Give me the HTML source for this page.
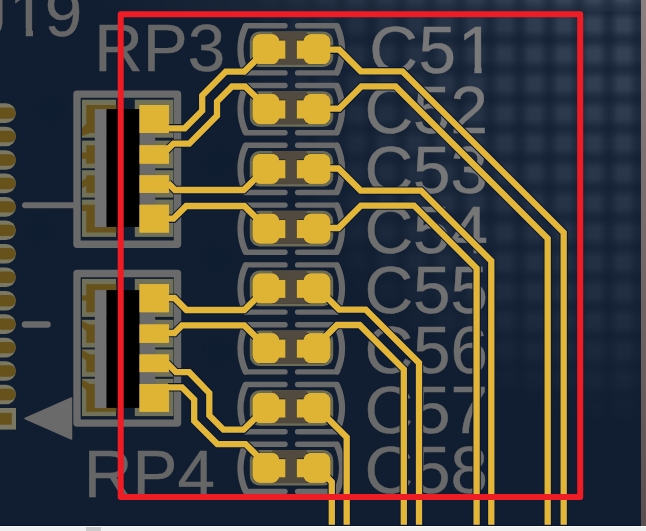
<!DOCTYPE html>
<html><head><meta charset="utf-8"><title>PCB</title>
<style>html,body{margin:0;padding:0;background:#111e31;overflow:hidden}svg{display:block}</style>
</head><body>
<svg width="646" height="531" viewBox="0 0 646 531">
<defs>
<linearGradient id="gx" x1="0" y1="0" x2="1" y2="0"><stop offset="0" stop-color="#000" stop-opacity=".62"/><stop offset=".13" stop-color="#000" stop-opacity=".45"/><stop offset=".34" stop-color="#000" stop-opacity="0"/><stop offset=".66" stop-color="#000" stop-opacity="0"/><stop offset=".87" stop-color="#000" stop-opacity=".45"/><stop offset="1" stop-color="#000" stop-opacity=".62"/></linearGradient>
<linearGradient id="gy" x1="0" y1="0" x2="0" y2="1"><stop offset="0" stop-color="#000" stop-opacity=".62"/><stop offset=".13" stop-color="#000" stop-opacity=".45"/><stop offset=".34" stop-color="#000" stop-opacity="0"/><stop offset=".66" stop-color="#000" stop-opacity="0"/><stop offset=".87" stop-color="#000" stop-opacity=".45"/><stop offset="1" stop-color="#000" stop-opacity=".62"/></linearGradient>
<pattern id="plaid" width="29.7" height="29.7" patternUnits="userSpaceOnUse" x="14.55" y="9.95">
<rect width="29.7" height="29.7" fill="#fff"/>
<rect width="29.7" height="29.7" fill="url(#gx)"/>
<rect width="29.7" height="29.7" fill="url(#gy)"/>
</pattern>
<linearGradient id="tb" gradientUnits="userSpaceOnUse" x1="90" y1="0" x2="240" y2="0"><stop offset="0" stop-color="#fff" stop-opacity="0"/><stop offset="1" stop-color="#fff" stop-opacity=".03"/></linearGradient>
<filter id="b2"><feGaussianBlur stdDeviation="1.5"/></filter>
<filter id="b3" x="-5%" y="-5%" width="110%" height="110%"><feGaussianBlur stdDeviation="3.2"/></filter>
<radialGradient id="lit" gradientUnits="userSpaceOnUse" cx="0" cy="0" r="1" gradientTransform="translate(646,-10) scale(405,440)">
<stop offset="0" stop-color="#fff" stop-opacity="1"/><stop offset=".18" stop-color="#fff" stop-opacity=".92"/><stop offset=".36" stop-color="#fff" stop-opacity=".7"/><stop offset=".545" stop-color="#fff" stop-opacity=".55"/><stop offset=".727" stop-color="#fff" stop-opacity=".42"/><stop offset=".864" stop-color="#fff" stop-opacity=".25"/><stop offset="1" stop-color="#fff" stop-opacity="0"/>
</radialGradient>
<mask id="rm" maskUnits="userSpaceOnUse" x="0" y="0" width="646" height="531">
<rect width="646" height="531" fill="#000"/><rect width="646" height="531" fill="url(#lit)"/>
</mask>
<mask id="pm" maskUnits="userSpaceOnUse" x="0" y="0" width="646" height="531">
<rect width="646" height="531" fill="#000"/>
<g mask="url(#rm)"><rect width="646" height="531" fill="url(#plaid)"/></g>
</mask>
<clipPath id="c51clip"><path clip-rule="evenodd" d="M350,0 H520 V90 H350 Z M459,65.8 H474.4 V76 H459 Z M481.6,65.8 H496 V76 H481.6 Z"/></clipPath>
<clipPath id="j19clip"><path clip-rule="evenodd" d="M-40,-30 H100 V60 H-40 Z M10,28.5 H25.8 V39 H10 Z M33,28.5 H46 V39 H33 Z"/></clipPath>
<radialGradient id="tg" gradientUnits="userSpaceOnUse" cx="0" cy="0" r="1" gradientTransform="translate(646,-10) scale(502,667)">
<stop offset="0" stop-color="#7e7e7e"/><stop offset=".35" stop-color="#7a7a7a"/><stop offset=".51" stop-color="#767676"/><stop offset=".67" stop-color="#6d6d6d"/><stop offset=".87" stop-color="#686868"/><stop offset="1" stop-color="#666666"/>
</radialGradient>
<linearGradient id="strip" x1="0" y1="0" x2="0" y2="1"><stop offset="0" stop-color="#8a7e7e"/><stop offset="1" stop-color="#5a4e4e"/></linearGradient>
</defs>
<rect width="646" height="531" fill="#111e31"/>
<rect width="646" height="531" fill="#dde9ff" opacity=".185" mask="url(#pm)"/>
<rect x="90" y="0" width="556" height="11.3" fill="url(#tb)"/>
<circle cx="218" cy="162" r="13" fill="#101a30" opacity=".35" filter="url(#b2)"/>
<circle cx="216" cy="258" r="13" fill="#101a30" opacity=".35" filter="url(#b2)"/>
<circle cx="50" cy="110" r="13" fill="#101a30" opacity=".35" filter="url(#b2)"/>
<circle cx="40" cy="230" r="13" fill="#101a30" opacity=".35" filter="url(#b2)"/>
<circle cx="218" cy="352" r="13" fill="#101a30" opacity=".35" filter="url(#b2)"/>
<rect x="-20" y="103.3" width="35.8" height="19.6" rx="9.8" fill="#7a7862"/>
<rect x="-20" y="107.4" width="35.8" height="11.4" rx="5.7" fill="#66521a"/>
<rect x="-20" y="126.7" width="35.8" height="19.6" rx="9.8" fill="#7a7862"/>
<rect x="-20" y="130.8" width="35.8" height="11.4" rx="5.7" fill="#66521a"/>
<rect x="-20" y="150.2" width="35.8" height="19.6" rx="9.8" fill="#7a7862"/>
<rect x="-20" y="154.3" width="35.8" height="11.4" rx="5.7" fill="#66521a"/>
<rect x="-20" y="173.6" width="35.8" height="19.6" rx="9.8" fill="#7a7862"/>
<rect x="-20" y="177.8" width="35.8" height="11.4" rx="5.7" fill="#66521a"/>
<rect x="-20" y="197.1" width="35.8" height="19.6" rx="9.8" fill="#7a7862"/>
<rect x="-20" y="201.2" width="35.8" height="11.4" rx="5.7" fill="#66521a"/>
<rect x="-20" y="220.5" width="35.8" height="19.6" rx="9.8" fill="#7a7862"/>
<rect x="-20" y="224.7" width="35.8" height="11.4" rx="5.7" fill="#66521a"/>
<rect x="-20" y="244.0" width="35.8" height="19.6" rx="9.8" fill="#7a7862"/>
<rect x="-20" y="248.1" width="35.8" height="11.4" rx="5.7" fill="#66521a"/>
<rect x="-20" y="267.4" width="35.8" height="19.6" rx="9.8" fill="#7a7862"/>
<rect x="-20" y="271.6" width="35.8" height="11.4" rx="5.7" fill="#66521a"/>
<rect x="-20" y="290.9" width="35.8" height="19.6" rx="9.8" fill="#7a7862"/>
<rect x="-20" y="295.0" width="35.8" height="11.4" rx="5.7" fill="#66521a"/>
<rect x="-20" y="314.3" width="35.8" height="19.6" rx="9.8" fill="#7a7862"/>
<rect x="-20" y="318.4" width="35.8" height="11.4" rx="5.7" fill="#66521a"/>
<rect x="-20" y="337.8" width="35.8" height="19.6" rx="9.8" fill="#7a7862"/>
<rect x="-20" y="341.9" width="35.8" height="11.4" rx="5.7" fill="#66521a"/>
<rect x="-20" y="361.2" width="35.8" height="19.6" rx="9.8" fill="#7a7862"/>
<rect x="-20" y="365.3" width="35.8" height="11.4" rx="5.7" fill="#66521a"/>
<rect x="-20" y="384.7" width="35.8" height="19.6" rx="9.8" fill="#7a7862"/>
<rect x="-20" y="388.8" width="35.8" height="11.4" rx="5.7" fill="#66521a"/>
<rect x="-20" y="408" width="36" height="21.6" fill="#7a7862"/><rect x="-20" y="412.9" width="31.8" height="11.8" fill="#66521a"/>
<line x1="25" y1="205.3" x2="75" y2="205.3" stroke="#6a6a6a" stroke-width="6" stroke-linecap="round"/>
<line x1="25" y1="324.4" x2="47.5" y2="324.4" stroke="#6a6a6a" stroke-width="6.5" stroke-linecap="round"/>
<polygon points="25,418.5 71.5,398 71.5,439" fill="#6a6a6a" stroke="#6a6a6a" stroke-width="1.5" stroke-linejoin="round"/>
<g font-family="Liberation Sans, Arial, sans-serif" font-size="67.4" fill="url(#tg)" stroke="url(#tg)" stroke-width="0.4">
<text x="-26.6 9 44.8" y="36" clip-path="url(#j19clip)">J19</text>
<text x="94.2" y="70.9">RP3</text>
<text x="83.8" y="497.4">RP4</text>
<text x="369.2 418.5 458" y="73.3" clip-path="url(#c51clip)">C51</text>
<text x="364.4" y="133.2">C52</text>
<text x="364.4" y="193.1">C53</text>
<text x="364.4" y="253.0">C54</text>
<text x="364.4" y="312.9">C55</text>
<text x="364.4" y="372.8">C56</text>
<text x="364.4" y="432.7">C57</text>
<text x="364.4" y="492.6">C58</text>
</g>
<g fill="none" stroke="#6a6a6a" stroke-width="5.4" stroke-linecap="round" stroke-linejoin="round">
<path d="M285,25.7 L246,25.7 M285,72.9 L246,72.9 M297.6,25.7 L336.5,25.7 M297.6,72.9 L336.5,72.9"/>
<path stroke-width="6.4" d="M245.6,26.3 A55,55 0 0 0 245.6,72.3 M336.9,26.3 A55,55 0 0 1 336.9,72.3"/>
</g>
<rect x="251.2" y="32.8" width="80.6" height="32.8" rx="8.5" fill="none" stroke="#6c6b56" stroke-width="2.8"/>
<rect x="272.3" y="31.5" width="34.5" height="8.3" fill="#524a3e"/>
<rect x="272.3" y="58.0" width="34.5" height="6.6" fill="#524a3e"/>
<rect x="285.4" y="34.0" width="11.4" height="30" fill="#524a3e"/>
<rect x="252.7" y="34.3" width="26.5" height="29.8" rx="7.5" fill="#dfb434"/>
<rect x="278" y="40.5" width="7.4" height="18.2" fill="#dfb434"/>
<rect x="303.6" y="34.3" width="26.7" height="29.8" rx="7.5" fill="#dfb434"/>
<rect x="296.8" y="40.5" width="8" height="18.2" fill="#dfb434"/>
<g fill="none" stroke="#6a6a6a" stroke-width="5.4" stroke-linecap="round" stroke-linejoin="round">
<path d="M285,85.5 L246,85.5 M285,132.7 L246,132.7 M297.6,85.5 L336.5,85.5 M297.6,132.7 L336.5,132.7"/>
<path stroke-width="6.4" d="M245.6,86.1 A55,55 0 0 0 245.6,132.1 M336.9,86.1 A55,55 0 0 1 336.9,132.1"/>
</g>
<rect x="251.2" y="92.6" width="80.6" height="32.8" rx="8.5" fill="none" stroke="#6c6b56" stroke-width="2.8"/>
<rect x="272.3" y="91.3" width="34.5" height="8.3" fill="#524a3e"/>
<rect x="272.3" y="117.8" width="34.5" height="6.6" fill="#524a3e"/>
<rect x="285.4" y="93.8" width="11.4" height="30" fill="#524a3e"/>
<rect x="252.7" y="94.1" width="26.5" height="29.8" rx="7.5" fill="#dfb434"/>
<rect x="278" y="100.3" width="7.4" height="18.2" fill="#dfb434"/>
<rect x="303.6" y="94.1" width="26.7" height="29.8" rx="7.5" fill="#dfb434"/>
<rect x="296.8" y="100.3" width="8" height="18.2" fill="#dfb434"/>
<g fill="none" stroke="#6a6a6a" stroke-width="5.4" stroke-linecap="round" stroke-linejoin="round">
<path d="M285,145.3 L246,145.3 M285,192.5 L246,192.5 M297.6,145.3 L336.5,145.3 M297.6,192.5 L336.5,192.5"/>
<path stroke-width="6.4" d="M245.6,145.9 A55,55 0 0 0 245.6,191.9 M336.9,145.9 A55,55 0 0 1 336.9,191.9"/>
</g>
<rect x="251.2" y="152.4" width="80.6" height="32.8" rx="8.5" fill="none" stroke="#6c6b56" stroke-width="2.8"/>
<rect x="272.3" y="151.1" width="34.5" height="8.3" fill="#524a3e"/>
<rect x="272.3" y="177.6" width="34.5" height="6.6" fill="#524a3e"/>
<rect x="285.4" y="153.6" width="11.4" height="30" fill="#524a3e"/>
<rect x="252.7" y="153.9" width="26.5" height="29.8" rx="7.5" fill="#dfb434"/>
<rect x="278" y="160.1" width="7.4" height="18.2" fill="#dfb434"/>
<rect x="303.6" y="153.9" width="26.7" height="29.8" rx="7.5" fill="#dfb434"/>
<rect x="296.8" y="160.1" width="8" height="18.2" fill="#dfb434"/>
<g fill="none" stroke="#6a6a6a" stroke-width="5.4" stroke-linecap="round" stroke-linejoin="round">
<path d="M285,205.1 L246,205.1 M285,252.3 L246,252.3 M297.6,205.1 L336.5,205.1 M297.6,252.3 L336.5,252.3"/>
<path stroke-width="6.4" d="M245.6,205.7 A55,55 0 0 0 245.6,251.7 M336.9,205.7 A55,55 0 0 1 336.9,251.7"/>
</g>
<rect x="251.2" y="212.2" width="80.6" height="32.8" rx="8.5" fill="none" stroke="#6c6b56" stroke-width="2.8"/>
<rect x="272.3" y="210.9" width="34.5" height="8.3" fill="#524a3e"/>
<rect x="272.3" y="237.4" width="34.5" height="6.6" fill="#524a3e"/>
<rect x="285.4" y="213.4" width="11.4" height="30" fill="#524a3e"/>
<rect x="252.7" y="213.7" width="26.5" height="29.8" rx="7.5" fill="#dfb434"/>
<rect x="278" y="219.9" width="7.4" height="18.2" fill="#dfb434"/>
<rect x="303.6" y="213.7" width="26.7" height="29.8" rx="7.5" fill="#dfb434"/>
<rect x="296.8" y="219.9" width="8" height="18.2" fill="#dfb434"/>
<g fill="none" stroke="#6a6a6a" stroke-width="5.4" stroke-linecap="round" stroke-linejoin="round">
<path d="M285,264.9 L246,264.9 M285,312.1 L246,312.1 M297.6,264.9 L336.5,264.9 M297.6,312.1 L336.5,312.1"/>
<path stroke-width="6.4" d="M245.6,265.5 A55,55 0 0 0 245.6,311.5 M336.9,265.5 A55,55 0 0 1 336.9,311.5"/>
</g>
<rect x="251.2" y="272.0" width="80.6" height="32.8" rx="8.5" fill="none" stroke="#6c6b56" stroke-width="2.8"/>
<rect x="272.3" y="270.7" width="34.5" height="8.3" fill="#524a3e"/>
<rect x="272.3" y="297.2" width="34.5" height="6.6" fill="#524a3e"/>
<rect x="285.4" y="273.2" width="11.4" height="30" fill="#524a3e"/>
<rect x="252.7" y="273.5" width="26.5" height="29.8" rx="7.5" fill="#dfb434"/>
<rect x="278" y="279.7" width="7.4" height="18.2" fill="#dfb434"/>
<rect x="303.6" y="273.5" width="26.7" height="29.8" rx="7.5" fill="#dfb434"/>
<rect x="296.8" y="279.7" width="8" height="18.2" fill="#dfb434"/>
<g fill="none" stroke="#6a6a6a" stroke-width="5.4" stroke-linecap="round" stroke-linejoin="round">
<path d="M285,324.7 L246,324.7 M285,371.9 L246,371.9 M297.6,324.7 L336.5,324.7 M297.6,371.9 L336.5,371.9"/>
<path stroke-width="6.4" d="M245.6,325.3 A55,55 0 0 0 245.6,371.3 M336.9,325.3 A55,55 0 0 1 336.9,371.3"/>
</g>
<rect x="251.2" y="331.8" width="80.6" height="32.8" rx="8.5" fill="none" stroke="#6c6b56" stroke-width="2.8"/>
<rect x="272.3" y="330.5" width="34.5" height="8.3" fill="#524a3e"/>
<rect x="272.3" y="357.0" width="34.5" height="6.6" fill="#524a3e"/>
<rect x="285.4" y="333.0" width="11.4" height="30" fill="#524a3e"/>
<rect x="252.7" y="333.3" width="26.5" height="29.8" rx="7.5" fill="#dfb434"/>
<rect x="278" y="339.5" width="7.4" height="18.2" fill="#dfb434"/>
<rect x="303.6" y="333.3" width="26.7" height="29.8" rx="7.5" fill="#dfb434"/>
<rect x="296.8" y="339.5" width="8" height="18.2" fill="#dfb434"/>
<g fill="none" stroke="#6a6a6a" stroke-width="5.4" stroke-linecap="round" stroke-linejoin="round">
<path d="M285,384.5 L246,384.5 M285,431.7 L246,431.7 M297.6,384.5 L336.5,384.5 M297.6,431.7 L336.5,431.7"/>
<path stroke-width="6.4" d="M245.6,385.1 A55,55 0 0 0 245.6,431.1 M336.9,385.1 A55,55 0 0 1 336.9,431.1"/>
</g>
<rect x="251.2" y="391.6" width="80.6" height="32.8" rx="8.5" fill="none" stroke="#6c6b56" stroke-width="2.8"/>
<rect x="272.3" y="390.3" width="34.5" height="8.3" fill="#524a3e"/>
<rect x="272.3" y="416.8" width="34.5" height="6.6" fill="#524a3e"/>
<rect x="285.4" y="392.8" width="11.4" height="30" fill="#524a3e"/>
<rect x="252.7" y="393.1" width="26.5" height="29.8" rx="7.5" fill="#dfb434"/>
<rect x="278" y="399.3" width="7.4" height="18.2" fill="#dfb434"/>
<rect x="303.6" y="393.1" width="26.7" height="29.8" rx="7.5" fill="#dfb434"/>
<rect x="296.8" y="399.3" width="8" height="18.2" fill="#dfb434"/>
<g fill="none" stroke="#6a6a6a" stroke-width="5.4" stroke-linecap="round" stroke-linejoin="round">
<path d="M285,444.3 L246,444.3 M285,491.5 L246,491.5 M297.6,444.3 L336.5,444.3 M297.6,491.5 L336.5,491.5"/>
<path stroke-width="6.4" d="M245.6,444.9 A55,55 0 0 0 245.6,490.9 M336.9,444.9 A55,55 0 0 1 336.9,490.9"/>
</g>
<rect x="251.2" y="451.4" width="80.6" height="32.8" rx="8.5" fill="none" stroke="#6c6b56" stroke-width="2.8"/>
<rect x="272.3" y="450.1" width="34.5" height="8.3" fill="#524a3e"/>
<rect x="272.3" y="476.6" width="34.5" height="6.6" fill="#524a3e"/>
<rect x="285.4" y="452.6" width="11.4" height="30" fill="#524a3e"/>
<rect x="252.7" y="452.9" width="26.5" height="29.8" rx="7.5" fill="#dfb434"/>
<rect x="278" y="459.1" width="7.4" height="18.2" fill="#dfb434"/>
<rect x="303.6" y="452.9" width="26.7" height="29.8" rx="7.5" fill="#dfb434"/>
<rect x="296.8" y="459.1" width="8" height="18.2" fill="#dfb434"/>
<rect x="77" y="94.1" width="100.5" height="150.1" fill="none" stroke="#6a6a6a" stroke-width="7.4" stroke-linejoin="round"/>
<rect x="82" y="99.7" width="34" height="38.0" fill="#717058"/>
<rect x="134.8" y="99.7" width="38.6" height="38.0" fill="#717058"/>
<rect x="82" y="140.6" width="34" height="27.7" fill="#717058"/>
<rect x="134.8" y="140.6" width="38.6" height="27.7" fill="#717058"/>
<rect x="82" y="170.2" width="34" height="27.4" fill="#717058"/>
<rect x="134.8" y="170.2" width="38.6" height="27.4" fill="#717058"/>
<rect x="82" y="199.6" width="34" height="37.3" fill="#717058"/>
<rect x="134.8" y="199.6" width="38.6" height="37.3" fill="#717058"/>
<rect x="86.3" y="105.0" width="30" height="28.0" fill="#66521a"/>
<rect x="86.3" y="145.3" width="30" height="18.3" fill="#66521a"/>
<rect x="86.3" y="175.3" width="30" height="17.6" fill="#66521a"/>
<rect x="86.3" y="204.8" width="30" height="27.7" fill="#66521a"/>
<polygon points="82,136 82,128 90,120 90,133" fill="#66521a"/>
<polygon points="82,152.5 88,152.5 88,158.8 82,158.8" fill="#66521a"/>
<polygon points="82,188 82,181 90,175.5 90,184" fill="#66521a"/>
<polygon points="82,204.8 88,204.8 88,211 82,211" fill="#66521a"/>
<rect x="94.8" y="109.1" width="12" height="118" fill="#717171"/>
<rect x="139" y="109.1" width="16.2" height="118" fill="#6a6a6a"/>
<rect x="106.5" y="109.1" width="33" height="117.8" fill="#000"/>
<rect x="139.6" y="105.0" width="29.3" height="28.0" fill="#dfb434"/>
<rect x="139.6" y="145.3" width="29.3" height="18.3" fill="#dfb434"/>
<rect x="139.6" y="175.3" width="29.3" height="17.6" fill="#dfb434"/>
<rect x="139.6" y="204.8" width="29.3" height="27.7" fill="#dfb434"/>
<rect x="77" y="273.5" width="100.5" height="149.6" fill="none" stroke="#6a6a6a" stroke-width="7.4" stroke-linejoin="round"/>
<rect x="82" y="278.9" width="34" height="38.0" fill="#717058"/>
<rect x="134.8" y="278.9" width="38.6" height="38.0" fill="#717058"/>
<rect x="82" y="319.8" width="34" height="27.7" fill="#717058"/>
<rect x="134.8" y="319.8" width="38.6" height="27.7" fill="#717058"/>
<rect x="82" y="349.4" width="34" height="27.4" fill="#717058"/>
<rect x="134.8" y="349.4" width="38.6" height="27.4" fill="#717058"/>
<rect x="82" y="378.8" width="34" height="37.3" fill="#717058"/>
<rect x="134.8" y="378.8" width="38.6" height="37.3" fill="#717058"/>
<rect x="86.3" y="284.2" width="30" height="28.0" fill="#66521a"/>
<rect x="86.3" y="324.5" width="30" height="18.3" fill="#66521a"/>
<rect x="86.3" y="354.5" width="30" height="17.6" fill="#66521a"/>
<rect x="86.3" y="384.0" width="30" height="27.7" fill="#66521a"/>
<polygon points="82,295.4 88,295.4 88,300.6 82,300.6" fill="#66521a"/>
<polygon points="82,321 82,327 90,335 90,325" fill="#66521a"/>
<polygon points="82,350 82,357 90,364 90,354.5" fill="#66521a"/>
<polygon points="82,379.5 82,386 90,394 90,384" fill="#66521a"/>
<rect x="94.8" y="290.09999999999997" width="12" height="118" fill="#717171"/>
<rect x="139" y="290.09999999999997" width="16.2" height="118" fill="#6a6a6a"/>
<rect x="106.5" y="290.09999999999997" width="33" height="117.8" fill="#000"/>
<rect x="139.6" y="284.2" width="29.3" height="28.0" fill="#dfb434"/>
<rect x="139.6" y="324.5" width="29.3" height="18.3" fill="#dfb434"/>
<rect x="139.6" y="354.5" width="29.3" height="17.6" fill="#dfb434"/>
<rect x="139.6" y="384.0" width="29.3" height="27.7" fill="#dfb434"/>
<g fill="none" stroke-linejoin="miter" stroke-miterlimit="10">
<path d="M168,128.3 L184.7,128.3 L202.2,110.6 L202.2,95.5 L225.8,71.6 L244.3,71.6 L256,60" stroke="#06173a" stroke-width="8.4"/>
<path d="M166,151 L173.5,143.6 L189.3,143.6 L217,115.7 L217,101.5 L232,86.5 L245.1,86.5 L256,97" stroke="#06173a" stroke-width="8.4"/>
<path d="M168,183 L175,190 L243.6,190 L256,178" stroke="#06173a" stroke-width="8.4"/>
<path d="M168,218.7 L173.5,218.7 L186.2,206 L244.3,206 L256,217.5" stroke="#06173a" stroke-width="8.4"/>
<path d="M168,298 L174.5,298 L186.4,310 L244.3,310 L256,298.5" stroke="#06173a" stroke-width="8.4"/>
<path d="M168,333 L174.5,333 L182,325.4 L244.3,325.4 L256,337" stroke="#06173a" stroke-width="8.4"/>
<path d="M167,363 L176,372.2 L189.2,372.2 L209.3,393 L209.3,415.5 L223.5,429.7 L243.5,429.7 L257,416.5" stroke="#06173a" stroke-width="8.4"/>
<path d="M168,387.3 L182,387.3 L194.2,399.5 L194.2,421 L217.3,444.1 L245.5,444.1 L257,455.5" stroke="#06173a" stroke-width="8.4"/>
<path d="M328,49.7 L339.2,49.7 L360.8,71.3 L402.4,71.3 L563.7,232.6 L563.7,540" stroke="#06173a" stroke-width="8.4"/>
<path d="M328,108.7 L339.2,108.7 L361.4,86.4 L395.6,86.4 L547.7,238.5 L547.7,540" stroke="#06173a" stroke-width="8.4"/>
<path d="M328,168.5 L338.5,168.5 L360.6,190.6 L421,190.6 L491.3,260.9 L491.3,540" stroke="#06173a" stroke-width="8.4"/>
<path d="M328,228 L338.5,228 L360.9,205.6 L414,205.6 L476.6,268.2 L476.6,540" stroke="#06173a" stroke-width="8.4"/>
<path d="M325,295.5 L339.2,309.6 L365.7,309.6 L419,362.9 L419,540" stroke="#06173a" stroke-width="8.4"/>
<path d="M325,337 L337,325 L359.6,325 L403.8,369.2 L403.8,540" stroke="#06173a" stroke-width="8.4"/>
<path d="M325,415.5 L346.7,437.3 L346.7,540" stroke="#06173a" stroke-width="8.4"/>
<path d="M326,476 L331.8,482 L331.8,540" stroke="#06173a" stroke-width="8.4"/>
<path d="M168,128.3 L184.7,128.3 L202.2,110.6 L202.2,95.5 L225.8,71.6 L244.3,71.6 L256,60" stroke="#e4b637" stroke-width="6.3"/>
<path d="M166,151 L173.5,143.6 L189.3,143.6 L217,115.7 L217,101.5 L232,86.5 L245.1,86.5 L256,97" stroke="#e4b637" stroke-width="6.3"/>
<path d="M168,183 L175,190 L243.6,190 L256,178" stroke="#e4b637" stroke-width="6.3"/>
<path d="M168,218.7 L173.5,218.7 L186.2,206 L244.3,206 L256,217.5" stroke="#e4b637" stroke-width="6.3"/>
<path d="M168,298 L174.5,298 L186.4,310 L244.3,310 L256,298.5" stroke="#e4b637" stroke-width="6.3"/>
<path d="M168,333 L174.5,333 L182,325.4 L244.3,325.4 L256,337" stroke="#e4b637" stroke-width="6.3"/>
<path d="M167,363 L176,372.2 L189.2,372.2 L209.3,393 L209.3,415.5 L223.5,429.7 L243.5,429.7 L257,416.5" stroke="#e4b637" stroke-width="6.3"/>
<path d="M168,387.3 L182,387.3 L194.2,399.5 L194.2,421 L217.3,444.1 L245.5,444.1 L257,455.5" stroke="#e4b637" stroke-width="6.3"/>
<path d="M328,49.7 L339.2,49.7 L360.8,71.3 L402.4,71.3 L563.7,232.6 L563.7,540" stroke="#e4b637" stroke-width="6.3"/>
<path d="M328,108.7 L339.2,108.7 L361.4,86.4 L395.6,86.4 L547.7,238.5 L547.7,540" stroke="#e4b637" stroke-width="6.3"/>
<path d="M328,168.5 L338.5,168.5 L360.6,190.6 L421,190.6 L491.3,260.9 L491.3,540" stroke="#e4b637" stroke-width="6.3"/>
<path d="M328,228 L338.5,228 L360.9,205.6 L414,205.6 L476.6,268.2 L476.6,540" stroke="#e4b637" stroke-width="6.3"/>
<path d="M325,295.5 L339.2,309.6 L365.7,309.6 L419,362.9 L419,540" stroke="#e4b637" stroke-width="6.3"/>
<path d="M325,337 L337,325 L359.6,325 L403.8,369.2 L403.8,540" stroke="#e4b637" stroke-width="6.3"/>
<path d="M325,415.5 L346.7,437.3 L346.7,540" stroke="#e4b637" stroke-width="6.3"/>
<path d="M326,476 L331.8,482 L331.8,540" stroke="#e4b637" stroke-width="6.3"/>
</g>
<rect x="252.7" y="34.3" width="26.5" height="29.8" rx="7.5" fill="#dfb434"/>
<rect x="303.6" y="34.3" width="26.7" height="29.8" rx="7.5" fill="#dfb434"/>
<rect x="252.7" y="94.1" width="26.5" height="29.8" rx="7.5" fill="#dfb434"/>
<rect x="303.6" y="94.1" width="26.7" height="29.8" rx="7.5" fill="#dfb434"/>
<rect x="252.7" y="153.9" width="26.5" height="29.8" rx="7.5" fill="#dfb434"/>
<rect x="303.6" y="153.9" width="26.7" height="29.8" rx="7.5" fill="#dfb434"/>
<rect x="252.7" y="213.7" width="26.5" height="29.8" rx="7.5" fill="#dfb434"/>
<rect x="303.6" y="213.7" width="26.7" height="29.8" rx="7.5" fill="#dfb434"/>
<rect x="252.7" y="273.5" width="26.5" height="29.8" rx="7.5" fill="#dfb434"/>
<rect x="303.6" y="273.5" width="26.7" height="29.8" rx="7.5" fill="#dfb434"/>
<rect x="252.7" y="333.3" width="26.5" height="29.8" rx="7.5" fill="#dfb434"/>
<rect x="303.6" y="333.3" width="26.7" height="29.8" rx="7.5" fill="#dfb434"/>
<rect x="252.7" y="393.1" width="26.5" height="29.8" rx="7.5" fill="#dfb434"/>
<rect x="303.6" y="393.1" width="26.7" height="29.8" rx="7.5" fill="#dfb434"/>
<rect x="252.7" y="452.9" width="26.5" height="29.8" rx="7.5" fill="#dfb434"/>
<rect x="303.6" y="452.9" width="26.7" height="29.8" rx="7.5" fill="#dfb434"/>
<rect x="139.6" y="105.0" width="29.3" height="28.0" fill="#dfb434"/>
<rect x="139.6" y="145.3" width="29.3" height="18.3" fill="#dfb434"/>
<rect x="139.6" y="175.3" width="29.3" height="17.6" fill="#dfb434"/>
<rect x="139.6" y="204.8" width="29.3" height="27.7" fill="#dfb434"/>
<rect x="139.6" y="284.2" width="29.3" height="28.0" fill="#dfb434"/>
<rect x="139.6" y="324.5" width="29.3" height="18.3" fill="#dfb434"/>
<rect x="139.6" y="354.5" width="29.3" height="17.6" fill="#dfb434"/>
<rect x="139.6" y="384.0" width="29.3" height="27.7" fill="#dfb434"/>
<rect x="120.7" y="14.3" width="459.5" height="482.8" fill="none" stroke="#ee1c24" stroke-width="6" stroke-linejoin="round"/>
<rect x="641" y="0" width="5" height="531" fill="url(#strip)"/>
<rect x="0" y="524.8" width="641" height="1.4" fill="#06142c"/>
<rect x="0" y="526" width="646" height="5" fill="#f0f0f0"/>
<rect x="0" y="526" width="646" height="1" fill="#fcfcfc"/>
<rect x="86" y="527" width="14.8" height="4" fill="#cdcdcd"/>
</svg>
</body></html>
